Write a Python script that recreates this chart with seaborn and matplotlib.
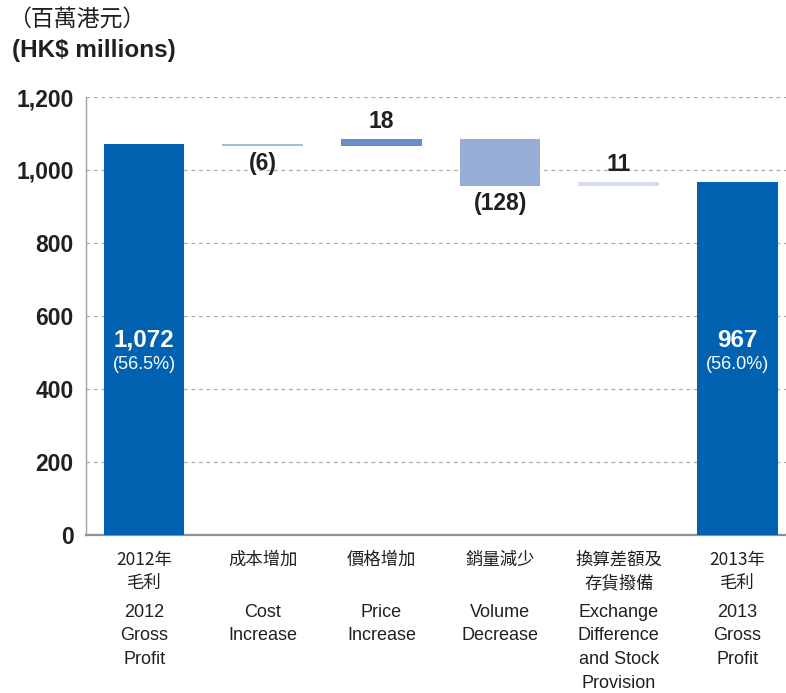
import numpy as np
import pandas as pd
import matplotlib
matplotlib.use("Agg")
import matplotlib.pyplot as plt
import seaborn as sns

# data
categories_zh = ["2012年\n毛利", "成本增加", "價格增加", "銷量減少", "換算差額及\n存貨撥備", "2013年\n毛利"]
categories_en = ["2012\nGross\nProfit", "Cost\nIncrease", "Price\nIncrease", "Volume\nDecrease",
                 "Exchange\nDifference\nand Stock\nProvision", "2013\nGross\nProfit"]
start_value = 1072
deltas = [-6, 18, -128, 11]
end_value = 967
margins = ["(56.5%)", "(56.0%)"]
colors = ["#0062b0", "#a6b9df", "#6a8ec9", "#98add6", "#d6dcef", "#0062b0"]

# waterfall bottoms / heights
bottoms = [0]
heights = [start_value]
level = start_value
for d in deltas:
    bottoms.append(level if d > 0 else level + d)
    heights.append(abs(d))
    level += d
bottoms.append(0)
heights.append(end_value)

df = pd.DataFrame({"cat": [str(i) for i in range(6)], "height": heights, "bottom": bottoms})

sns.set_style("white")
plt.rcParams["font.family"] = ["Liberation Sans", "Noto Sans CJK TC", "DejaVu Sans"]

fig = plt.figure(figsize=(7.86, 6.93), dpi=100)
ax = fig.add_axes([86 / 786, 1 - 535 / 693, 1 - 86 / 786, (535 - 97) / 693])

sns.barplot(data=df, x="cat", y="height", bottom=df["bottom"].values, width=0.68,
            color=colors[0], saturation=1, ax=ax, zorder=3)
for patch, c in zip(ax.patches, colors):
    patch.set_facecolor(c)
    patch.set_edgecolor("none")

ax.set_ylim(0, 1200)
ax.set_xlim(-0.49, 5.41)
ax.set_yticks(range(0, 1201, 200))
ax.set_yticklabels([f"{v:,}" for v in range(0, 1201, 200)], fontsize=16.5, fontweight="bold", color="#231f20")
ax.tick_params(axis="y", length=0, pad=9)
ax.set_xticks(range(6))
ax.set_xticklabels([])
ax.tick_params(axis="x", length=0)
ax.set_xlabel("")
ax.set_ylabel("")
for y in range(200, 1201, 200):
    ax.axhline(y, color="#a8a8a8", lw=0.9, ls=(0, (3, 3)), zorder=1)
for s in ["top", "right"]:
    ax.spines[s].set_visible(False)
ax.spines["left"].set_color("#a0a0a0")
ax.spines["left"].set_linewidth(1)
ax.spines["bottom"].set_color("#909090")
ax.spines["bottom"].set_linewidth(1.6)

# totals labels
for i, val, m in [(0, start_value, margins[0]), (5, end_value, margins[1])]:
    ax.text(i, 534, f"{val:,}", ha="center", va="center", color="white", fontsize=17.5, fontweight="bold")
    ax.text(i, 466, m, ha="center", va="center", color="white", fontsize=13)

# delta labels
for k, d in enumerate(deltas):
    i = k + 1
    if d > 0:
        y = bottoms[i] + heights[i]
        off = 12.5
        txt = f"{d}"
    else:
        y = bottoms[i]
        off = -12.5
        txt = f"({-d})"
    ax.annotate(txt, (i, y), xytext=(0, off), textcoords="offset points",
                ha="center", va="center", fontsize=16.5, fontweight="bold", color="#231f20")

# category labels
for i in range(6):
    ax.text(i, -(551 - 535) / 438, categories_zh[i], transform=ax.get_xaxis_transform(),
            ha="center", va="top", fontsize=12.5, color="#231f20", linespacing=1.35,
            family=["Noto Sans CJK TC", "Liberation Sans"])
for i in range(6):
    ax.text(i, -(604 - 535) / 438, categories_en[i], transform=ax.get_xaxis_transform(),
            ha="center", va="top", fontsize=13, color="#231f20", linespacing=1.5)

# unit title
fig.text(8 / 786, 1 - 19 / 693, "（百萬港元）", ha="left", va="center", fontsize=16.5,
         color="#231f20", family=["Noto Sans CJK TC", "Liberation Sans"])
fig.text(12 / 786, 1 - 51 / 693, "(HK$ millions)", ha="left", va="center", fontsize=17.5,
         fontweight="bold", color="#231f20")

fig.savefig("out.png", dpi=100)
